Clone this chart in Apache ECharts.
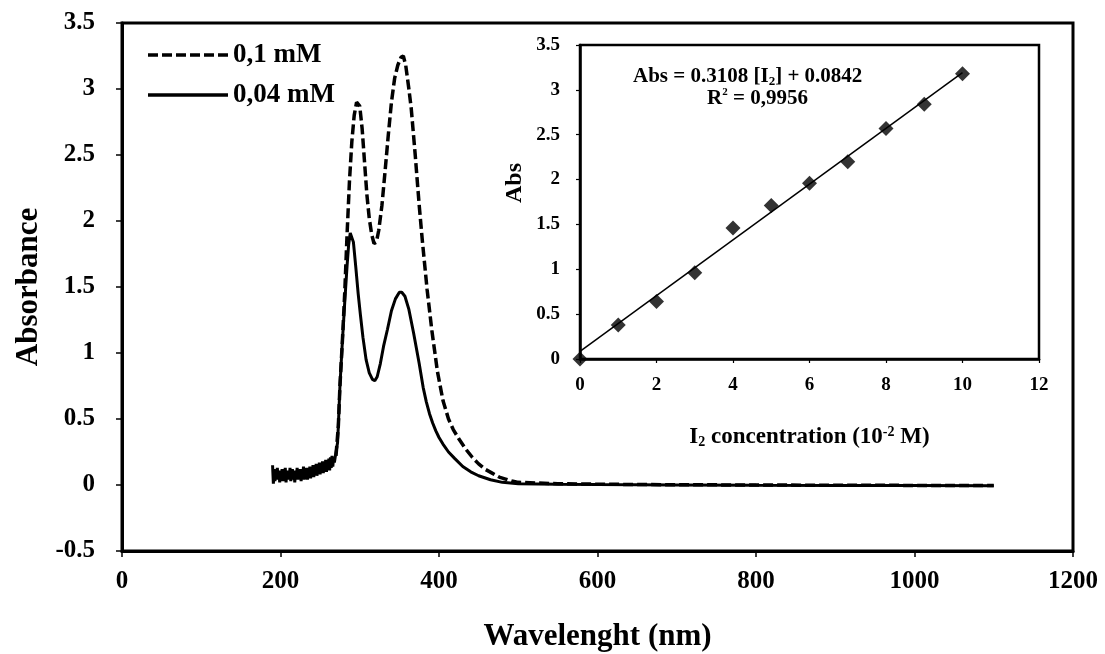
<!DOCTYPE html>
<html>
<head>
<meta charset="utf-8">
<script src="https://cdn.jsdelivr.net/npm/echarts@6/dist/echarts.min.js"></script>
<style>
  html, body { margin: 0; padding: 0; background: #fff; }
  #chart { width: 1105px; height: 654px; }
</style>
</head>
<body>
<div id="chart"></div>
<script>
// 0,04 mM spectrum (solid), noisy start read point by point
const waveSolid = [
  190,191,192,193,194,195,196,197,198,199,200,201,202,203,204,205,206,207,208,209,
  210,211,212,213,214,215,216,217,218,219,220,221,222,223,224,225,226,227,228,229,
  230,231,232,233,234,235,236,237,238,239,240,241,242,243,244,245,246,247,248,249,
  250,251,252,253,254,255,256,257,258,259,260,261,262,263,264,265,266,267,268,269,270,
  272,273,275,278,281,284,286,288,290,292,295,298,301,304,308,312,316,319,322,326,
  330,335,340,345,350,353,357,362,368,375,380,384,388,392,396,400,405,412,420,430,
  440,450,465,480,500,550,600,700,800,900,1000,1100
];
const absSolid = [
  0.15,0.01,0.12,0.03,0.11,0.04,0.13,0.05,0.10,0.02,0.11,0.05,0.12,0.03,0.10,0.06,0.13,0.02,0.11,0.04,
  0.10,0.05,0.13,0.03,0.09,0.12,0.04,0.11,0.02,0.10,0.06,0.13,0.04,0.11,0.05,0.12,0.03,0.11,0.06,0.14,
  0.04,0.12,0.07,0.13,0.04,0.11,0.07,0.14,0.05,0.12,0.07,0.15,0.06,0.13,0.08,0.16,0.07,0.14,0.09,0.17,
  0.08,0.15,0.10,0.18,0.09,0.16,0.11,0.19,0.10,0.18,0.12,0.20,0.11,0.21,0.13,0.22,0.14,0.21,0.17,0.21,0.22,
  0.32,0.45,0.75,1.08,1.38,1.66,1.82,1.91,1.92,1.84,1.65,1.45,1.28,1.12,0.95,0.85,0.80,0.79,0.82,0.92,
  1.05,1.18,1.32,1.41,1.46,1.46,1.43,1.33,1.15,0.92,0.74,0.63,0.54,0.47,0.41,0.36,0.31,0.25,0.20,0.14,
  0.10,0.07,0.04,0.02,0.01,0.005,0.003,0.0,-0.002,-0.003,-0.004,-0.005
];

// 0,1 mM spectrum (dashed)
const waveDashed = [
  270,273,275,278,281,284,287,290,293,296,298,300,303,306,309,312,315,318,321,324,
  328,332,336,340,344,348,352,355,358,362,365,370,375,379,385,391,398,405,412,418,
  425,434,442,450,458,467,476,484,492,500,550,600,700,800,900,1000,1100
];
const absDashed = [
  0.22,0.45,0.75,1.08,1.45,1.90,2.30,2.60,2.80,2.90,2.91,2.87,2.70,2.45,2.20,2.02,1.90,1.83,1.84,1.93,
  2.12,2.38,2.65,2.90,3.08,3.18,3.24,3.25,3.18,3.00,2.85,2.50,2.12,1.85,1.48,1.17,0.86,0.64,0.50,0.42,
  0.35,0.27,0.21,0.16,0.12,0.09,0.06,0.045,0.03,0.02,0.01,0.006,0.002,0.0,-0.002,-0.003,-0.004
];

// inset calibration points
const concI2 = [0, 1, 2, 3, 4, 5, 6, 7, 8, 9, 10];
const absI2 = [0, 0.38, 0.64, 0.96, 1.46, 1.71, 1.96, 2.20, 2.57, 2.84, 3.18];
// fitted line ends (Abs = 0.3108 [I2] + 0.0842)
const fitConc = [0, 10];
const fitAbs = [0.084, 3.192];

const seriesNames = ['0,1 mM', '0,04 mM'];

const font = "'Liberation Serif', 'Times New Roman', serif";

function pairs(xs, ys) {
  return xs.map((x, i) => [x, ys[i]]);
}

let myChart = echarts.init(document.getElementById('chart'));

let tick = { fontFamily: font, fontWeight: 'bold', color: '#000', formatter: v => String(v) };
let bold = (size) => ({ fontFamily: font, fontWeight: 'bold', fontSize: size, color: '#000' });

let option = {
  animation: false,
  backgroundColor: '#fff',
  grid: [{
    left: 122, top: 23, right: 32, bottom: 103,
    outerBoundsMode: 'none',
    show: true, borderColor: '#000', borderWidth: 3
  }, {
    left: 580, top: 45, right: 66, bottom: 295,
    outerBoundsMode: 'none',
    show: true, borderColor: '#000', borderWidth: 2.5, backgroundColor: '#fff'
  }],
  xAxis: [{
    gridIndex: 0,
    type: 'value',
    min: 0, max: 1200, interval: 200,
    name: 'Wavelenght (nm)',
    nameLocation: 'middle',
    nameGap: 70,
    nameTextStyle: bold(31),
    axisLine: { show: true, onZero: false, lineStyle: { color: '#000', width: 3 } },
    axisTick: { show: true, length: 6, lineStyle: { color: '#000', width: 1.5 } },
    axisLabel: Object.assign({ fontSize: 25, margin: 18 }, tick),
    splitLine: { show: false }
  }, {
    gridIndex: 1,
    type: 'value',
    min: 0, max: 12, interval: 2,
    name: '{t|I}{sub|2}{t| concentration (10}{sup|-2}{t| M)}',
    nameLocation: 'middle',
    nameGap: 66,
    nameTextStyle: {
      rich: {
        t: Object.assign({ lineHeight: 24 }, bold(23)),
        sub: Object.assign({ lineHeight: 24, verticalAlign: 'bottom' }, bold(14)),
        sup: Object.assign({ lineHeight: 24, verticalAlign: 'top' }, bold(14))
      }
    },
    axisLine: { show: true, onZero: false, lineStyle: { color: '#000', width: 2.5 } },
    axisTick: { show: true, length: 4, lineStyle: { color: '#000', width: 1.2 } },
    axisLabel: Object.assign({ fontSize: 19, margin: 17 }, tick),
    splitLine: { show: false }
  }],
  yAxis: [{
    gridIndex: 0,
    type: 'value',
    min: -0.5, max: 3.5, interval: 0.5,
    name: 'Absorbance',
    nameLocation: 'middle',
    nameGap: 78,
    nameRotate: 90,
    nameTextStyle: bold(31),
    axisLine: { show: true, onZero: false, lineStyle: { color: '#000', width: 3 } },
    axisTick: { show: true, length: 6, lineStyle: { color: '#000', width: 1.5 } },
    axisLabel: Object.assign({ fontSize: 25, margin: 27 }, tick),
    splitLine: { show: false }
  }, {
    gridIndex: 1,
    type: 'value',
    min: 0, max: 3.5, interval: 0.5,
    name: 'Abs',
    nameLocation: 'middle',
    nameGap: 53,
    nameRotate: 90,
    nameTextStyle: Object.assign({ padding: [0, 0, 0, 38] }, bold(24)),
    axisLine: { show: true, onZero: false, lineStyle: { color: '#000', width: 2.5 } },
    axisTick: { show: true, length: 4, lineStyle: { color: '#000', width: 1.2 } },
    axisLabel: Object.assign({ fontSize: 19, margin: 20 }, tick),
    splitLine: { show: false }
  }],
  graphic: [{
    // legend, drawn by hand so the samples carry no symbol
    type: 'line',
    shape: { x1: 148, y1: 55, x2: 228, y2: 55 },
    style: { stroke: '#000', lineWidth: 3.5, lineDash: [10, 4] }
  }, {
    type: 'text',
    left: 233, top: 42,
    style: { text: seriesNames[0], font: 'bold 27px ' + font, fill: '#000' }
  }, {
    type: 'line',
    shape: { x1: 148, y1: 95, x2: 228, y2: 95 },
    style: { stroke: '#000', lineWidth: 3.5 }
  }, {
    type: 'text',
    left: 233, top: 82,
    style: { text: seriesNames[1], font: 'bold 27px ' + font, fill: '#000' }
  }, {
    type: 'text',
    left: 633, top: 66,
    style: {
      text: '{t|Abs = 0.3108 [I}{sub|2}{t|] + 0.0842}',
      rich: {
        t: { fontFamily: font, fontWeight: 'bold', fontSize: 21, fill: '#000', lineHeight: 24 },
        sub: { fontFamily: font, fontWeight: 'bold', fontSize: 13, fill: '#000', lineHeight: 24, verticalAlign: 'bottom' }
      }
    }
  }, {
    type: 'text',
    left: 707, top: 87,
    style: {
      text: '{t|R}{sup|2}{t| = 0,9956}',
      rich: {
        t: { fontFamily: font, fontWeight: 'bold', fontSize: 21, fill: '#000', lineHeight: 24 },
        sup: { fontFamily: font, fontWeight: 'bold', fontSize: 11, fill: '#000', lineHeight: 24, verticalAlign: 'top' }
      }
    }
  }],
  series: [{
    name: seriesNames[0],
    type: 'line',
    xAxisIndex: 0, yAxisIndex: 0,
    data: pairs(waveDashed, absDashed),
    symbol: 'none',
    color: '#000',
    lineStyle: { color: '#000', width: 3.5, type: [10, 4] },
    z: 3
  }, {
    name: seriesNames[1],
    type: 'line',
    xAxisIndex: 0, yAxisIndex: 0,
    data: pairs(waveSolid, absSolid),
    symbol: 'none',
    color: '#000',
    lineStyle: { color: '#000', width: 3 },
    z: 2
  }, {
    name: 'fit',
    type: 'line',
    xAxisIndex: 1, yAxisIndex: 1,
    data: pairs(fitConc, fitAbs),
    symbol: 'none',
    lineStyle: { color: '#000', width: 1.5 },
    z: 5
  }, {
    name: 'Abs',
    type: 'scatter',
    xAxisIndex: 1, yAxisIndex: 1,
    data: pairs(concI2, absI2),
    symbol: 'diamond',
    symbolSize: 15,
    itemStyle: { color: '#000' },
    z: 6
  }]
};

myChart.setOption(option);

window.addEventListener('resize', () => {
  myChart.resize();
});
</script>
</body>
</html>
